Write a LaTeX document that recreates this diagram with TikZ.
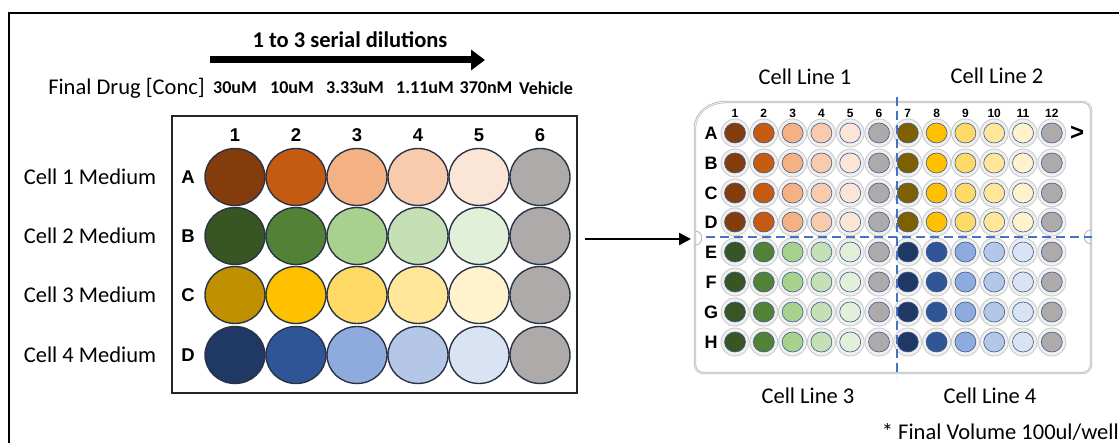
\documentclass[tikz,border=0pt]{standalone}
\usepackage{fontspec}
\setmainfont{Carlito}
\newfontfamily\arialf{Liberation Sans}
\usetikzlibrary{arrows.meta,shapes.geometric}
\definecolor{o1}{HTML}{843C0C}\definecolor{o2}{HTML}{C55A11}\definecolor{o3}{HTML}{F4B183}\definecolor{o4}{HTML}{F8CBAD}\definecolor{o5}{HTML}{FBE5D6}
\definecolor{g1}{HTML}{375623}\definecolor{g2}{HTML}{538135}\definecolor{g3}{HTML}{A9D18E}\definecolor{g4}{HTML}{C5E0B4}\definecolor{g5}{HTML}{E2F0D9}
\definecolor{y1}{HTML}{BF9000}\definecolor{y2}{HTML}{FFC000}\definecolor{y3}{HTML}{FFD966}\definecolor{y4}{HTML}{FFE699}\definecolor{y5}{HTML}{FFF2CC}
\definecolor{p1}{HTML}{7F6000}\definecolor{p2}{HTML}{FFC000}\definecolor{p3}{HTML}{FFD966}\definecolor{p4}{HTML}{FFE699}\definecolor{p5}{HTML}{FFF2CC}
\definecolor{b1}{HTML}{203864}\definecolor{b2}{HTML}{2F5597}\definecolor{b3}{HTML}{8FAADC}\definecolor{b4}{HTML}{B4C7E7}\definecolor{b5}{HTML}{DAE3F3}
\definecolor{grey}{HTML}{AEAAAA}
\definecolor{dashblue}{HTML}{4472C4}
\definecolor{rim}{HTML}{3B5A8C}
\definecolor{rim24}{HTML}{2A3346}
\begin{document}
\begin{tikzpicture}[x=1pt,y=-1pt,
  lab/.style={font=\fontsize{22.5}{27}\selectfont, inner sep=0},
  blab/.style={font=\fontsize{22.5}{27}\selectfont\bfseries, inner sep=0},
  conc/.style={font=\fontsize{18}{22}\selectfont\bfseries, inner sep=0},
  bignum/.style={font=\arialf\fontsize{18.5}{22}\selectfont\bfseries, inner sep=0},
  smallnum/.style={font=\arialf\fontsize{12}{14}\selectfont\bfseries, inner sep=0},
  rowlet/.style={font=\arialf\fontsize{18}{21}\selectfont\bfseries, inner sep=0},
  well24/.style={ellipse, minimum width=60pt, minimum height=57pt, inner sep=0, draw=rim24, line width=1.4pt},
  ring/.style={circle, minimum size=28pt, inner sep=0, fill=gray!12, draw=gray!40, line width=0.9pt},
  well96/.style={ellipse, minimum width=21pt, minimum height=20pt, inner sep=0, draw=rim, line width=0.6pt},
  plateline/.style={draw=gray!50, line width=2.4pt},
  plateinner/.style={draw=gray!12, line width=0.8pt},
  dashln/.style={draw=dashblue, line width=2.2pt, dash pattern=on 9pt off 5pt},
]
\useasboundingbox (0,0) rectangle (1119,443);
\clip (0,0) rectangle (1119,443);
\fill[white] (0,0) rectangle (1119,443);
\draw[line width=2.5pt] (9,13) rectangle (1150,480);

% dilution arrow and header
\node[blab] (title) at (350,40) {1 to 3 serial dilutions};
\coordinate (dS) at (210,60);
\coordinate (dE) at (485,60);
\draw[line width=7pt, -{Triangle[length=14pt,width=20pt]}] (dS) -- (dE);
\node[lab, anchor=east] (fdc) at (205,88) {Final Drug [Conc]};
\node[conc] (c1) at (235,88) {30uM};
\node[conc] (c2) at (292,88) {10uM};
\node[conc] (c3) at (355,88) {3.33uM};
\node[conc] (c4) at (425,88) {1.11uM};
\node[conc] (c5) at (486,88) {370nM};
\node[conc] (c6) at (546,88) {Vehicle};

% 24-well plate
\node[draw=black!85, line width=1.5pt, minimum width=405pt, minimum height=277pt, inner sep=0] (plate24) at (374.5,254.5) {};
\foreach \c/\xx in {1/235,2/296,3/357,4/418,5/479,6/540}
  \node[bignum] (N\c) at (\xx,135) {\c};
\foreach \row/\yy/\ser/\k in {A/177/o/1, B/236/g/2, C/295/y/3, D/355/b/4} {
  \node[lab] (M\row) at (90,\yy) {Cell \k\ Medium};
  \node[bignum] (L\row) at (188,\yy) {\row};
  \foreach \c/\xx in {1/235,2/296,3/357,4/418,5/479}
    \node[well24, fill=\ser\c] (W\row\c) at (\xx,\yy) {};
  \node[well24, fill=grey] (W\row6) at (540,\yy) {};
}

% connector arrow
\coordinate (aS) at (585,239);
\coordinate (aE) at (691,239);
\draw[line width=2.5pt, -{Triangle[length=12pt,width=12pt]}] (aS) -- (aE);

% 96-well plate outline
\draw[plateline, rounded corners=8pt] (695,136) .. controls (695,112) and (710,102) .. (734,102) -- (1091,102) -- (1091,373) -- (695,373) -- cycle;
\draw[plateinner, rounded corners=7pt] (695,136) .. controls (695,112) and (710,102) .. (734,102) -- (1091,102) -- (1091,373) -- (695,373) -- cycle;
\draw[gray!50, line width=1pt] (695,231) .. controls (704,231) and (704,245) .. (695,245);
\draw[gray!50, line width=1pt] (1091,230) .. controls (1082,230) and (1082,244) .. (1091,244);

\foreach \c in {1,...,12}
  \node[smallnum] (n\c) at ({735+(\c-1)*28.8},113) {\c};
\foreach \row/\yy/\sa/\sb in {A/133/o/p, B/163/o/p, C/193/o/p, D/222/o/p, E/252/g/b, F/282/g/b, G/312/g/b, H/342/g/b} {
  \node[rowlet] (l\row) at (711,\yy) {\row};
  \foreach \c in {1,...,12}
    \node[ring] (R\row\c) at ({735+(\c-1)*28.8},\yy) {};
  \foreach \c in {1,...,5} {
    \node[well96, fill=\sa\c] (w\row\c) at ({735+(\c-1)*28.8},\yy) {};
    \node[well96, fill=\sb\c] (v\row\c) at ({735+(\c+5)*28.8},\yy) {};
  }
  \node[well96, fill=grey] (w\row6) at ({735+5*28.8},\yy) {};
  \node[well96, fill=grey] (v\row12) at ({735+11*28.8},\yy) {};
}
\node[font=\arialf\fontsize{24}{26}\selectfont\bfseries, inner sep=0] (gt) at (1077,133) {>};

% dashed dividers
\coordinate (vT) at (897,97);
\coordinate (vB) at (897,377);
\coordinate (hL) at (706,237);
\coordinate (hR) at (1092,237);
\draw[dashln] (vT) -- (vB);
\draw[dashln] (hL) -- (hR);

% labels
\node[lab] (cl1) at (805,77) {Cell Line 1};
\node[lab] (cl2) at (997,76) {Cell Line 2};
\node[lab] (cl3) at (808,396) {Cell Line 3};
\node[lab] (cl4) at (990,396) {Cell Line 4};
\node[lab, anchor=east] (fv) at (1119,432) {* Final Volume 100ul/well};
\end{tikzpicture}
\end{document}
